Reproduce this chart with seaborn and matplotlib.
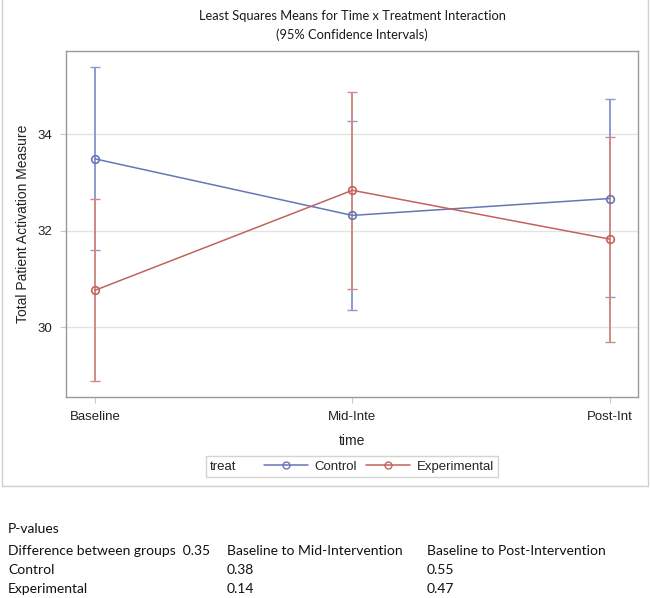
import matplotlib
matplotlib.use("Agg")
import pandas as pd
import seaborn as sns
from matplotlib import pyplot as plt
from matplotlib.lines import Line2D
from matplotlib.offsetbox import HPacker

# least squares means and 95% CI
time_labels = ["Baseline", "Mid-Inte", "Post-Int"]
treat_groups = ["Control", "Experimental"]
control_mean = [33.49, 32.32, 32.67]
control_lower = [31.61, 30.36, 30.63]
control_upper = [35.39, 34.27, 34.72]
exper_mean = [30.77, 32.84, 31.83]
exper_lower = [28.90, 30.79, 29.69]
exper_upper = [32.66, 34.88, 33.95]

# p-value table under the chart
pval_header = ["Difference between groups  0.35", "Baseline to Mid-Intervention", "Baseline to Post-Intervention"]
pval_rows = [["Control", "0.38", "0.55"], ["Experimental", "0.14", "0.47"]]

line_colors = {"Control": "#6577b6", "Experimental": "#c2635d"}
bar_colors = {"Control": "#8e9bd0", "Experimental": "#d08a85"}
cap_colors = {"Control": "#2f3f8f", "Experimental": "#a0302a"}

df = pd.DataFrame({
    "time": time_labels * 2,
    "pos": list(range(len(time_labels))) * 2,
    "treat": [treat_groups[0]] * 3 + [treat_groups[1]] * 3,
    "mean": control_mean + exper_mean,
    "lower": control_lower + exper_lower,
    "upper": control_upper + exper_upper,
})

sns.set_style("white")
plt.rcParams["font.family"] = ["Liberation Sans", "DejaVu Sans"]

fig = plt.figure(figsize=(6.5, 5.98), dpi=100)
ax = fig.add_axes([0.1015, 0.3353, 0.88, 0.5799])

for grp in treat_groups:
    sub = df[df["treat"] == grp]
    _, caps, bars = ax.errorbar(sub["pos"], sub["mean"],
                                yerr=[sub["mean"] - sub["lower"], sub["upper"] - sub["mean"]],
                                fmt="none", ecolor=bar_colors[grp], elinewidth=1.4,
                                capsize=3.3, capthick=1.0, zorder=2)
    for c in caps:
        c.set_color(cap_colors[grp])
    sns.lineplot(data=sub, x="pos", y="mean", ax=ax, color=line_colors[grp],
                 linewidth=1.1, marker="o", markersize=5.5, markerfacecolor="none",
                 markeredgecolor=line_colors[grp], markeredgewidth=1.2, zorder=3,
                 label=grp, legend=False)

ax.set_xlim(-0.113, 2.11)
ax.set_ylim(28.55, 35.73)
ax.set_yticks([30, 32, 34])
ax.set_xticks(range(len(time_labels)))
ax.set_xticklabels(time_labels)
ax.yaxis.grid(True, color="#e3e3e3", linewidth=1.0)
ax.set_axisbelow(True)
for sp in ax.spines.values():
    sp.set_color("#9a9a9a")
    sp.set_linewidth(1.0)
ax.tick_params(axis="both", which="both", length=4, color="#c8c8c8", labelsize=9.5,
               labelcolor="#222222", pad=6)
ax.tick_params(axis="x", bottom=True, pad=6)
ax.tick_params(axis="y", left=True)
ax.set_xlabel("time", fontsize=10, color="#222222", labelpad=8)
ax.set_ylabel("Total Patient Activation Measure", fontsize=10, color="#222222", labelpad=5)

fig.text(0.5415, 1 - 16 / 598, "Least Squares Means for Time x Treatment Interaction",
         ha="center", va="center", fontsize=9.3, family="Lato", color="#1a1a1a")
fig.text(0.5415, 1 - 35 / 598, "(95% Confidence Intervals)",
         ha="center", va="center", fontsize=9.3, family="Lato", color="#1a1a1a")

handles = [Line2D([], [], color=line_colors[g], linewidth=1.1, marker="o", markersize=5,
                  markerfacecolor="none", markeredgecolor=line_colors[g]) for g in treat_groups]
leg = fig.legend(handles, treat_groups, title="treat", ncol=2, loc="center",
                 bbox_to_anchor=(0.5415, 1 - 466.5 / 598), fontsize=9.5, title_fontsize=9.5,
                 frameon=True, fancybox=False, edgecolor="#c8c8c8", handlelength=3.3,
                 handletextpad=0.5, columnspacing=0.7, borderpad=0.3)
leg.get_frame().set_linewidth(1.0)
leg.get_title().set_color("#222222")
# put the legend title to the left of the entries, like SAS does
leg._legend_box = HPacker(pad=leg.borderpad * 9.5, sep=20, align="center",
                          children=[leg._legend_title_box, leg._legend_handle_box])
leg._legend_box.set_figure(fig)
leg._legend_box.set_offset(leg._findoffset)

# light border around the graph area (left, right and bottom only)
border_y = 1 - 486 / 598
for xs, ys in [([1.5 / 650, 1.5 / 650], [1, border_y]),
               ([648 / 650, 648 / 650], [1, border_y]),
               ([1.5 / 650, 648 / 650], [border_y, border_y])]:
    fig.add_artist(Line2D(xs, ys, transform=fig.transFigure, color="#d0d0d0", linewidth=1.0))

# p-value table
col_x = [8 / 650, 227 / 650, 427 / 650]
row_y = [551, 570, 589]
tkw = dict(fontsize=10, family="Lato", color="#111111", va="center", ha="left")
fig.text(col_x[0], 1 - 529 / 598, "P-values", **tkw)
for x, s in zip(col_x, pval_header):
    fig.text(x, 1 - row_y[0] / 598, s, **tkw)
for y, row in zip(row_y[1:], pval_rows):
    for x, s in zip(col_x, row):
        fig.text(x, 1 - y / 598, s, **tkw)

fig.savefig("out.png", dpi=100)
plt.close(fig)
